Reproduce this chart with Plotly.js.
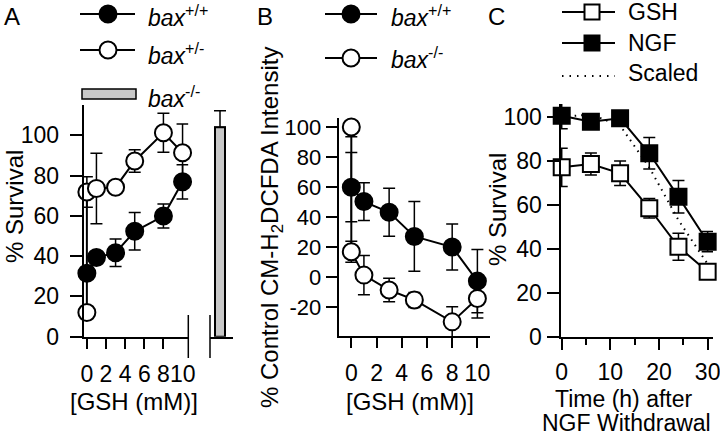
<!DOCTYPE html>
<html><head><meta charset="utf-8">
<script src="https://cdn.plot.ly/plotly-3.0.1.min.js"></script>
<style>html,body{margin:0;padding:0;background:#fff}#chart{width:720px;height:435px}</style>
</head><body><div id="chart"></div>
<script>
// ---------- Panel A: % survival vs [GSH] ----------
const aGSH_wt   = [0, 1, 3, 5, 8, 10];
const aSurv_wt  = [31.5, 39.3, 41.7, 52.3, 59.9, 76.9];
const aErr_wt   = [3, 3, 6.8, 9.3, 6, 8.5];
const aGSH_het  = [0, 0, 1, 3, 5, 8, 10];
const aSurv_het = [12, 71.8, 73.6, 74.2, 87.2, 101.2, 91.3];
const aErr_het  = [3, 7.6, 17.5, 3, 5.6, 9.7, 14.3];
const aKO_cat   = ['bax-/-'];
const aSurv_ko  = [104];
const aErr_ko   = [8.2];
const aXTicks   = [0, 2, 4, 6, 8];
const aXLast    = [10];
const aYTicks   = [0, 20, 40, 60, 80, 100];

// ---------- Panel B: % control CM-H2DCFDA intensity ----------
const bGSH_wt   = [0, 1, 3, 5, 8, 10];
const bInt_wt   = [60, 50.4, 43.3, 27.2, 20.2, -2.5];
const bErr_wt   = [23, 12.5, 16, 23.2, 15.3, 21];
const bGSH_ko   = [0, 0, 1, 3, 5, 8, 10];
const bInt_ko   = [100, 17, 1.5, -8.4, -15, -29.6, -14];
const bErr_ko   = [6.5, 7, 13, 7.8, 5, 10, 13];
const bXTicks   = [0, 2, 4, 6, 8, 10];
const bYTicks   = [-20, 0, 20, 40, 60, 80, 100];
const bYText    = ['-20', '0', '20', '40', '60', '80', '100'];

// ---------- Panel C: % survival vs time after NGF withdrawal ----------
const cTime     = [0, 6, 12, 18, 24, 30];
const cNGF      = [100.5, 97.7, 99.3, 83.4, 63.6, 43.2];
const cNGFErr   = [6, 2, 2, 7.2, 7.4, 4.6];
const cGSH      = [77, 78.5, 74.3, 58.4, 40.9, 29.5];
const cGSHErr   = [8.7, 5, 5.6, 4.4, 6.1, 2];
const cScaled   = [100, 101, 96, 77, 53, 33];
const cXTicks   = [0, 10, 20, 30];
const cYTicks   = [0, 20, 40, 60, 80, 100];

const FONT = 'Liberation Sans, Arial, sans-serif';
const W = 720, H = 435;
const px = v => v / W;
const py = v => 1 - v / H;
// invisible trailing spacer to push panel A's y tick labels a bit further from the ticks
const PAD = '<span style="fill:rgba(0,0,0,0);color:rgba(0,0,0,0)">.</span>';

function errs(arr) {
  return {type: 'data', array: arr, visible: true, color: '#000', thickness: 1.5, width: 6};
}
function series(x, y, e, filled, symbol, xa, ya, size) {
  return {
    type: 'scatter', mode: 'lines+markers', x: x, y: y, xaxis: xa, yaxis: ya,
    cliponaxis: false, showlegend: false, hoverinfo: 'skip',
    line: {color: '#000', width: 2},
    marker: {symbol: symbol, size: size, color: filled ? '#000' : '#fff', line: {color: '#000', width: 2}},
    error_y: errs(e)
  };
}

const traces = [
  series(aGSH_wt, aSurv_wt, aErr_wt, true, 'circle', 'x', 'y', 17),
  series(aGSH_het, aSurv_het, aErr_het, false, 'circle', 'x', 'y', 17),
  {type: 'bar', x: aKO_cat, y: aSurv_ko, xaxis: 'x2', yaxis: 'y', width: 1,
   marker: {color: '#c8c8c8', line: {color: '#000', width: 2}},
   error_y: {type: 'data', array: aErr_ko, arrayminus: [0], color: '#000', thickness: 1.5, width: 6},
   showlegend: false, hoverinfo: 'skip', cliponaxis: false},
  series(bGSH_wt, bInt_wt, bErr_wt, true, 'circle', 'x4', 'y4', 17),
  series(bGSH_ko, bInt_ko, bErr_ko, false, 'circle', 'x4', 'y4', 17),
  {type: 'scatter', mode: 'lines', x: cTime, y: cScaled, xaxis: 'x5', yaxis: 'y5',
   line: {color: '#000', width: 2, dash: '1.5px,5px'}, showlegend: false, hoverinfo: 'skip', cliponaxis: false},
  series(cTime, cGSH, cGSHErr, false, 'square', 'x5', 'y5', 16),
  series(cTime, cNGF, cNGFErr, true, 'square', 'x5', 'y5', 16)
];

const tf = {family: FONT, size: 23, color: '#000'};
const base = {showline: true, linecolor: '#000', linewidth: 2, ticks: 'outside', tickcolor: '#000',
  tickwidth: 2, ticklen: 11, showgrid: false, zeroline: false, tickfont: tf, fixedrange: true,
  tickmode: 'array', ticklabeloverflow: 'allow'};

const layout = {
  width: W, height: H, margin: {l: 0, r: 0, t: 0, b: 0},
  paper_bgcolor: '#fff', plot_bgcolor: 'rgba(0,0,0,0)', showlegend: false,
  font: {family: FONT, color: '#000'},
  xaxis: Object.assign({}, base, {domain: [px(84), px(188.3)], range: [-0.3, 10.6], anchor: 'y',
    tickvals: aXTicks, ticktext: aXTicks.map(String), ticklen: 10, ticklabelstandoff: 6}),
  xaxis2: Object.assign({}, base, {domain: [px(210), px(233)], range: [-1, 1.3], anchor: 'y',
    type: 'category', ticks: '', showticklabels: false}),
  yaxis: Object.assign({}, base, {domain: [py(336.7), py(105)], range: [0, 115], anchor: 'x',
    tickvals: aYTicks, ticktext: aYTicks.map(v => String(v) + PAD), ticklen: 12}),
  xaxis4: Object.assign({}, base, {domain: [px(338.7), px(490)], range: [-1, 11], anchor: 'y4',
    tickvals: bXTicks, ticktext: bXTicks.map(String), ticklen: 10, ticklabelstandoff: 5}),
  yaxis4: Object.assign({}, base, {domain: [py(336), py(118)], range: [-39, 106], anchor: 'x4',
    tickvals: bYTicks, ticktext: bYText, tickfont: {family: FONT, size: 22, color: '#000'}}),
  xaxis5: Object.assign({}, base, {domain: [px(560.5), px(713)], range: [-0.25, 31.1], anchor: 'y5',
    tickvals: cXTicks, ticktext: cXTicks.map(String), ticklen: 11, ticklabelstandoff: 3,
    minor: {tickmode: 'linear', tick0: 0, dtick: 5, ticks: 'outside', ticklen: 6, tickwidth: 2, tickcolor: '#000'}}),
  yaxis5: Object.assign({}, base, {domain: [py(336.7), py(104)], range: [0, 105.8], anchor: 'x5',
    tickvals: cYTicks, ticktext: cYTicks.map(String), ticklen: 12}),
  shapes: [
    // axis-break marks (panel A)
    {type: 'line', xref: 'x domain', yref: 'paper', x0: 1, x1: 1, y0: py(315), y1: py(358), line: {color: '#000', width: 1.5}},
    {type: 'line', xref: 'x2 domain', yref: 'paper', x0: 0, x1: 0, y0: py(315), y1: py(358), line: {color: '#000', width: 1.5}},
    // legend A
    {type: 'line', xref: 'paper', yref: 'paper', x0: px(80), x1: px(135), y0: py(14), y1: py(14), line: {color: '#000', width: 2}},
    {type: 'circle', xref: 'paper', yref: 'paper', xsizemode: 'pixel', ysizemode: 'pixel', xanchor: px(108), yanchor: py(14), x0: -8.5, x1: 8.5, y0: -8.5, y1: 8.5, fillcolor: '#000', line: {color: '#000', width: 2}},
    {type: 'line', xref: 'paper', yref: 'paper', x0: px(80), x1: px(135), y0: py(50), y1: py(50), line: {color: '#000', width: 2}},
    {type: 'circle', xref: 'paper', yref: 'paper', xsizemode: 'pixel', ysizemode: 'pixel', xanchor: px(108), yanchor: py(50), x0: -8.5, x1: 8.5, y0: -8.5, y1: 8.5, fillcolor: '#fff', line: {color: '#000', width: 2}},
    {type: 'rect', xref: 'paper', yref: 'paper', x0: px(82), x1: px(136), y0: py(89), y1: py(99), fillcolor: '#c8c8c8', line: {color: '#000', width: 1.5}},
    // legend B
    {type: 'line', xref: 'paper', yref: 'paper', x0: px(325), x1: px(377), y0: py(14), y1: py(14), line: {color: '#000', width: 2}},
    {type: 'circle', xref: 'paper', yref: 'paper', xsizemode: 'pixel', ysizemode: 'pixel', xanchor: px(351), yanchor: py(14), x0: -8.5, x1: 8.5, y0: -8.5, y1: 8.5, fillcolor: '#000', line: {color: '#000', width: 2}},
    {type: 'line', xref: 'paper', yref: 'paper', x0: px(325), x1: px(377), y0: py(58), y1: py(58), line: {color: '#000', width: 2}},
    {type: 'circle', xref: 'paper', yref: 'paper', xsizemode: 'pixel', ysizemode: 'pixel', xanchor: px(351), yanchor: py(58), x0: -8.5, x1: 8.5, y0: -8.5, y1: 8.5, fillcolor: '#fff', line: {color: '#000', width: 2}},
    // legend C
    {type: 'line', xref: 'paper', yref: 'paper', x0: px(562), x1: px(615), y0: py(12), y1: py(12), line: {color: '#000', width: 2}},
    {type: 'rect', xref: 'paper', yref: 'paper', xsizemode: 'pixel', ysizemode: 'pixel', xanchor: px(592), yanchor: py(12), x0: -7.5, x1: 7.5, y0: -7.5, y1: 7.5, fillcolor: '#fff', line: {color: '#000', width: 2}},
    {type: 'line', xref: 'paper', yref: 'paper', x0: px(562), x1: px(615), y0: py(43), y1: py(43), line: {color: '#000', width: 2}},
    {type: 'rect', xref: 'paper', yref: 'paper', xsizemode: 'pixel', ysizemode: 'pixel', xanchor: px(592), yanchor: py(43), x0: -7.5, x1: 7.5, y0: -7.5, y1: 7.5, fillcolor: '#000', line: {color: '#000', width: 2}},
    {type: 'line', xref: 'paper', yref: 'paper', x0: px(562), x1: px(615), y0: py(76), y1: py(76), line: {color: '#000', width: 2, dash: '1.5px,6px'}}
  ],
  annotations: []
};

function ann(text, x, y, opts) {
  layout.annotations.push(Object.assign({text: text, xref: 'paper', yref: 'paper', x: px(x), y: py(y),
    showarrow: false, xanchor: 'center', yanchor: 'middle', font: {family: FONT, size: 24, color: '#000'}}, opts || {}));
}
// tick label "10" of panel A's main axis (sits at the axis break, no tick mark)
layout.annotations.push({text: String(aXLast[0]), xref: 'x', yref: 'paper', x: aXLast[0], y: py(374),
  showarrow: false, xanchor: 'center', yanchor: 'middle', font: tf});
// panel letters
ann('A', 12, 16);
ann('B', 265, 16);
ann('C', 496, 16);
// axis titles
ann('% Survival', 14, 207, {textangle: -90});
ann('% Control CM-H<sub>2</sub>DCFDA Intensity', 271, 228, {textangle: -90});
ann('% Survival', 497, 210, {textangle: -90});
ann('[GSH (mM)]', 134, 401);
ann('[GSH (mM)]', 410, 401);
ann('Time (h) after', 624, 399, {font: {family: FONT, size: 23, color: '#000'}});
ann('NGF Withdrawal', 626, 423, {font: {family: FONT, size: 23, color: '#000'}});
// legend texts
const lf = {family: FONT, size: 23, color: '#000'};
ann('<i>bax</i><sup>+/+</sup>', 146, 16, {xanchor: 'left', font: lf});
ann('<i>bax</i><sup>+/-</sup>', 146, 54, {xanchor: 'left', font: lf});
ann('<i>bax</i><sup>-/-</sup>', 146, 97, {xanchor: 'left', font: lf});
ann('<i>bax</i><sup>+/+</sup>', 389, 16, {xanchor: 'left', font: lf});
ann('<i>bax</i><sup>-/-</sup>', 389, 58, {xanchor: 'left', font: lf});
ann('GSH', 626, 12, {xanchor: 'left', font: lf});
ann('NGF', 626, 43, {xanchor: 'left', font: lf});
ann('Scaled', 626, 73, {xanchor: 'left', font: lf});

Plotly.newPlot('chart', traces, layout, {displayModeBar: false, staticPlot: true});
</script>
</body></html>
